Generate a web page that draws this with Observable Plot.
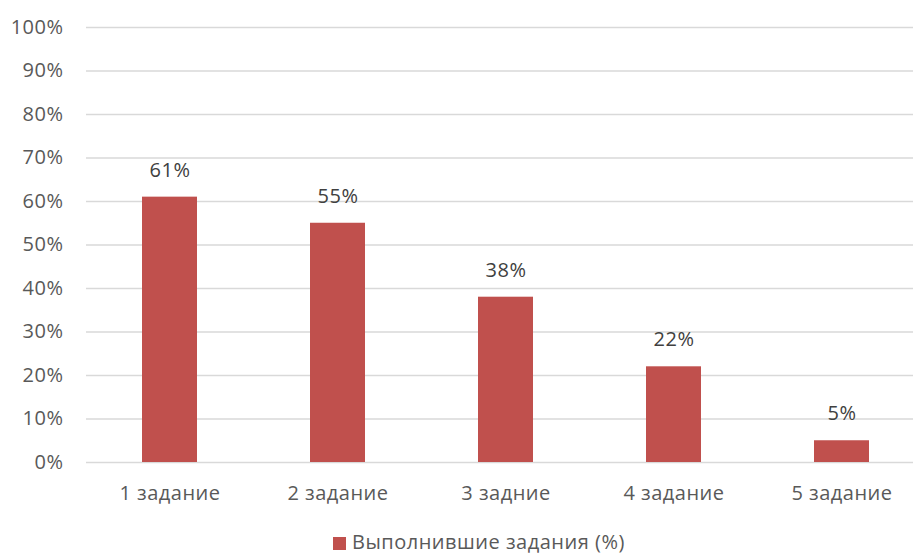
<!DOCTYPE html>
<html>
<head>
<meta charset="utf-8">
<script src="https://cdn.jsdelivr.net/npm/d3@7"></script>
<script src="https://cdn.jsdelivr.net/npm/@observablehq/plot@0.6"></script>
<style>
  html, body { margin: 0; padding: 0; background: #fff; }
  #wrap { position: relative; width: 913px; height: 556px; overflow: hidden; font-family: "Open Sans", sans-serif; }
  #chart svg text { letter-spacing: 0.5px; }
  #legend { position: absolute; left: 333px; top: 532px; height: 20px; line-height: 20px; font-size: 20px; letter-spacing: 0.5px; color: #595959; white-space: nowrap; }
  #legend .sw { display: inline-block; width: 13px; height: 13px; background: #c0504d; margin-right: 6px; vertical-align: -1px; }
</style>
</head>
<body>
<div id="wrap"><div id="chart"></div><div id="legend"><span class="sw"></span>Выполнившие задания (%)</div></div>
<script>
const categories = ["1 задание", "2 задание", "3 задние", "4 задание", "5 задание"];
const values = [61, 55, 38, 22, 5];
const yTicks = [0, 10, 20, 30, 40, 50, 60, 70, 80, 90, 100];
const seriesName = "Выполнившие задания (%)";

const data = categories.map((c, i) => ({category: c, value: values[i]}));

const chart = Plot.plot({
  width: 913,
  height: 530,
  marginLeft: 86,
  marginRight: 0,
  marginTop: 27,
  marginBottom: 68,
  style: {fontFamily: "Open Sans, sans-serif", fontSize: "20px", color: "#595959", background: "#fff", overflow: "visible"},
  x: {domain: categories, range: [85.5, 926], paddingInner: 0.673, paddingOuter: 0.3365, label: null},
  y: {domain: [0, 100], label: null},
  marks: [
    Plot.ruleY(yTicks, {stroke: "#d9d9d9", strokeWidth: 1.5}),
    Plot.barY(data, {x: "category", y: "value", fill: "#c0504d"}),
    Plot.text(data, {x: "category", y: "value", text: d => d.value + "%", dy: -27, fill: "#404040", fontSize: 20}),
    Plot.axisY({ticks: yTicks, tickFormat: d => d + "%", tickSize: 0, tickPadding: 23, fill: "#595959", fontSize: 20, label: null}),
    Plot.axisX({tickSize: 0, tickPadding: 23, fill: "#595959", fontSize: 20, label: null})
  ]
});
document.getElementById("chart").appendChild(chart);
</script>
</body>
</html>
